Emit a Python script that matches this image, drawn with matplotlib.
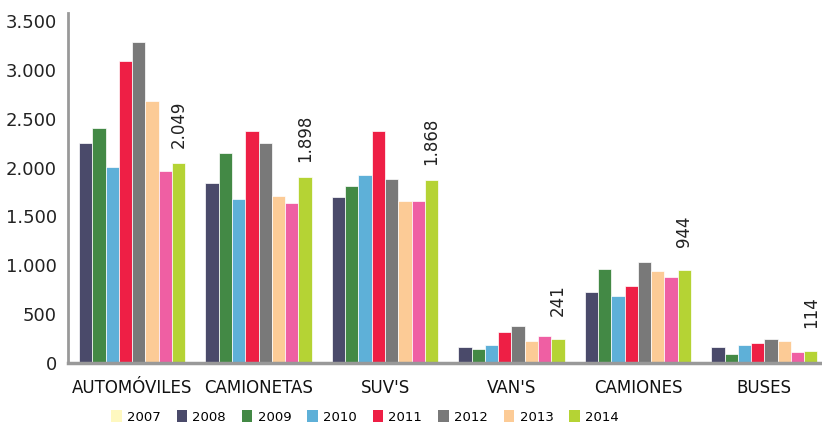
import matplotlib
matplotlib.use("Agg")
import matplotlib.pyplot as plt
from matplotlib.patches import Patch
from matplotlib.ticker import FuncFormatter
import numpy as np

categories = ["AUTOMÓVILES", "CAMIONETAS", "SUV'S", "VAN'S", "CAMIONES", "BUSES"]

v2008 = [2248, 1841, 1701, 159, 723, 159]
v2009 = [2402, 2149, 1810, 135, 962, 90]
v2010 = [2008, 1680, 1920, 179, 679, 179]
v2011 = [3095, 2377, 2377, 313, 788, 200]
v2012 = [3290, 2248, 1879, 374, 1028, 244]
v2013 = [2682, 1705, 1659, 221, 938, 221]
v_pink = [1964, 1636, 1659, 269, 874, 111]
v2014 = [2049, 1898, 1868, 241, 944, 114]

legend_labels = ["2007", "2008", "2009", "2010", "2011", "2012", "2013", "2014"]
legend_colors = ["#FEF8C0", "#4A4A6A", "#438945", "#5EB0D8", "#EE1F45",
                 "#797979", "#FCCB96", "#B5D334"]

series = [v2008, v2009, v2010, v2011, v2012, v2013, v_pink, v2014]
series_colors = ["#4A4A6A", "#438945", "#5EB0D8", "#EE1F45",
                 "#797979", "#FCCB96", "#EF5FA3", "#B5D334"]

fig = plt.figure(figsize=(8.22, 4.26), dpi=100)
ax = fig.add_axes([68/822, (426-362.5)/426, (820-68)/822, 349.5/426])

x = np.arange(len(categories))
w = 0.105
n = len(series)
for i, (vals, c) in enumerate(zip(series, series_colors)):
    ax.bar(x + (i - (n-1)/2) * w, vals, width=w, color=c,
           edgecolor="white", linewidth=0.5)

# value labels above 2014 bars
for xi, v in zip(x, v2014):
    xpos = xi + (n - 1 - (n-1)/2) * w
    ax.annotate(f"{v:,}".replace(",", "."), (xpos, v), xytext=(0, 28),
                textcoords="offset points", rotation=90,
                ha="center", va="center", fontsize=12, color="#222222")

ax.set_xlim(-0.507, 5.44)
ax.set_ylim(0, 3585)
ax.set_yticks(range(0, 3501, 500))
ax.yaxis.set_major_formatter(FuncFormatter(lambda v, p: f"{int(v):,}".replace(",", ".")))
ax.set_xticks(x)
ax.set_xticklabels(categories, fontsize=12, color="#111111")
ax.tick_params(axis="y", length=0, labelsize=13, labelcolor="#222222", pad=8)
ax.tick_params(axis="x", length=0, pad=12)

for s in ["top", "right"]:
    ax.spines[s].set_visible(False)
ax.spines["left"].set_color("#999999")
ax.spines["left"].set_linewidth(2)
ax.spines["bottom"].set_color("#999999")
ax.spines["bottom"].set_linewidth(2.5)

handles = [Patch(facecolor=c, edgecolor="none") for c in legend_colors]
fig.legend(handles, legend_labels, loc="center", ncol=8,
           bbox_to_anchor=(365/822, 1 - 417/426), frameon=False,
           fontsize=9.5, handlelength=0.8, handleheight=1.0,
           handletextpad=0.4, columnspacing=1.2)

fig.savefig("out.png", dpi=100)
